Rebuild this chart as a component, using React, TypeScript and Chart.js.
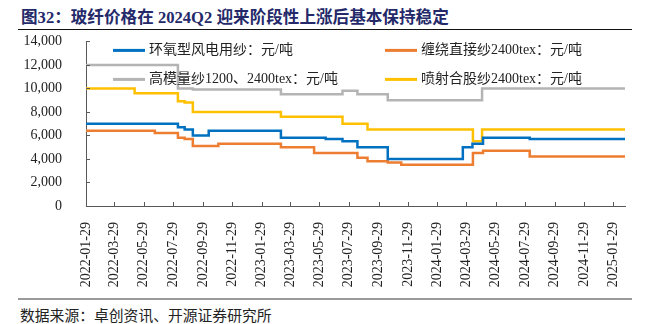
import React, { useEffect, useRef } from 'react';
import { Chart, registerables } from 'chart.js';

Chart.register(...registerables);

const START = '2022-01-29';
const END = '2025-02-22';

const tickLabels = [
  '2022-01-29', '2022-03-29', '2022-05-29', '2022-07-29', '2022-09-29', '2022-11-29',
  '2023-01-29', '2023-03-29', '2023-05-29', '2023-07-29', '2023-09-29', '2023-11-29',
  '2024-01-29', '2024-03-29', '2024-05-29', '2024-07-29', '2024-09-29', '2024-11-29',
  '2025-01-29',
];

const seriesNames = [
  '环氧型风电用纱：元/吨',
  '缠绕直接纱2400tex：元/吨',
  '高模量纱1200、2400tex：元/吨',
  '喷射合股纱2400tex：元/吨',
];
const seriesColors = ['#0070C0', '#ED7D31', '#B4B4B4', '#FFC000'];

// 环氧型风电用纱 (change dates and new values)
const epoxyDates = ['2022-01-29', '2022-08-08', '2022-08-22', '2022-09-08', '2022-10-11', '2023-03-10', '2023-06-11', '2023-07-16', '2023-08-16', '2023-10-18', '2024-03-22', '2024-04-11', '2024-05-03', '2024-08-08'];
const epoxyValues = [7000, 6700, 6500, 6000, 6400, 5800, 5700, 5500, 5000, 4000, 5000, 5300, 5800, 5700];

// 缠绕直接纱2400tex
const windingDates = ['2022-01-29', '2022-06-21', '2022-08-08', '2022-08-22', '2022-09-08', '2022-10-31', '2023-03-10', '2023-05-18', '2023-08-16', '2023-09-06', '2023-10-18', '2023-11-15', '2024-04-12', '2024-05-03', '2024-08-08'];
const windingValues = [6400, 6200, 5800, 5700, 5100, 5300, 5000, 4500, 4100, 3800, 3700, 3500, 4500, 4700, 4200];

// 高模量纱1200、2400tex
const highModDates = ['2022-01-29', '2022-08-08', '2022-09-08', '2023-03-10', '2023-07-16', '2023-08-16', '2023-10-18', '2024-05-01'];
const highModValues = [12000, 10000, 9900, 9500, 9800, 9500, 9000, 10000];

// 喷射合股纱2400tex
const sprayDates = ['2022-01-29', '2022-05-10', '2022-08-08', '2022-08-22', '2022-09-08', '2023-03-10', '2023-07-16', '2023-09-06', '2024-04-12', '2024-05-01'];
const sprayValues = [10000, 9600, 8900, 8800, 8000, 7600, 7000, 6500, 5500, 6500];

const yTicks = [0, 2000, 4000, 6000, 8000, 10000, 12000, 14000];

const FONT = "'Liberation Serif', 'Times New Roman', serif";
const CJK_FONT = "'Liberation Serif', 'Noto Sans CJK SC', serif";

const dayOf = (d: string) =>
  (Date.parse(d + 'T00:00:00Z') - Date.parse(START + 'T00:00:00Z')) / 86400000;

const toPoints = (dates: string[], values: number[]) => [
  ...dates.map((d, i) => ({ x: dayOf(d), y: values[i] })),
  { x: dayOf(END), y: values[values.length - 1] },
];

const innerTicks = {
  id: 'innerTicks',
  afterDraw(chart: any) {
    const { ctx, chartArea, scales } = chart;
    ctx.save();
    ctx.strokeStyle = '#595959';
    ctx.lineWidth = 1;
    scales.x.ticks.forEach((_t: any, i: number) => {
      const px = Math.round(scales.x.getPixelForTick(i)) + 0.5;
      ctx.beginPath();
      ctx.moveTo(px, chartArea.bottom);
      ctx.lineTo(px, chartArea.bottom - 4);
      ctx.stroke();
    });
    scales.y.ticks.forEach((_t: any, i: number) => {
      const py = Math.round(scales.y.getPixelForTick(i)) + 0.5;
      ctx.beginPath();
      ctx.moveTo(chartArea.left, py);
      ctx.lineTo(chartArea.left + 4, py);
      ctx.stroke();
    });
    ctx.restore();
  },
};

const legendPlugin = {
  id: 'customLegend',
  afterDatasetsDraw(chart: any) {
    const { ctx, chartArea } = chart;
    const cols = [chartArea.left + 27, chartArea.left + 299];
    const rows = [chartArea.top + 9, chartArea.top + 38];
    ctx.save();
    ctx.font = `14px ${CJK_FONT}`;
    ctx.textBaseline = 'middle';
    seriesNames.forEach((name, k) => {
      const x = cols[k % 2];
      const y = rows[Math.floor(k / 2)];
      ctx.strokeStyle = seriesColors[k];
      ctx.lineWidth = 3;
      ctx.beginPath();
      ctx.moveTo(x, y);
      ctx.lineTo(x + 32, y);
      ctx.stroke();
      ctx.fillStyle = '#222';
      ctx.fillText(name, x + 36, y);
    });
    ctx.restore();
  },
};

export default function App() {
  const ref = useRef<HTMLCanvasElement | null>(null);

  useEffect(() => {
    if (!ref.current) return;
    const seriesPoints = [
      toPoints(epoxyDates, epoxyValues),
      toPoints(windingDates, windingValues),
      toPoints(highModDates, highModValues),
      toPoints(sprayDates, sprayValues),
    ];
    const chart = new Chart(ref.current, {
      type: 'line',
      data: {
        datasets: seriesPoints.map((pts, i) => ({
          label: seriesNames[i],
          data: pts,
          borderColor: seriesColors[i],
          backgroundColor: seriesColors[i],
          borderWidth: 2.5,
          pointRadius: 0,
          stepped: true,
          fill: false,
        })),
      },
      options: {
        animation: false,
        responsive: false,
        devicePixelRatio: 1,
        layout: { padding: { top: 0, right: 24, left: 0, bottom: 0 } },
        plugins: { legend: { display: false }, tooltip: { enabled: false } },
        scales: {
          x: {
            type: 'linear',
            min: 0,
            max: dayOf(END),
            afterBuildTicks: (axis: any) => {
              axis.ticks = tickLabels.map((d) => ({ value: dayOf(d) }));
            },
            afterFit: (s: any) => {
              s.height = 92;
            },
            grid: { display: false },
            border: { display: true, color: '#595959', width: 1 },
            ticks: {
              autoSkip: false,
              maxRotation: 90,
              minRotation: 90,
              padding: 8,
              color: '#222',
              font: { family: FONT, size: 14 },
              callback: (_v: any, i: number) => tickLabels[i],
            },
          },
          y: {
            min: 0,
            max: 14000,
            afterBuildTicks: (axis: any) => {
              axis.ticks = yTicks.map((v) => ({ value: v }));
            },
            afterFit: (s: any) => {
              s.width = 86;
            },
            grid: { display: false },
            border: { display: true, color: '#595959', width: 1 },
            ticks: {
              autoSkip: false,
              padding: 16,
              color: '#222',
              font: { family: FONT, size: 14 },
              callback: (v: any) => Number(v).toLocaleString('en-US'),
            },
          },
        },
      },
      plugins: [innerTicks, legendPlugin],
    } as any);
    return () => chart.destroy();
  }, []);

  return (
    <div style={{ position: 'absolute', left: 0, top: 0, width: 649, height: 324, background: '#fff', overflow: 'hidden' }}>
      <div
        style={{
          position: 'absolute', left: 21, top: 4, whiteSpace: 'nowrap',
          font: `bold 16.6px ${CJK_FONT}`, color: '#24296a',
        }}
      >
        图32：玻纤价格在 2024Q2 迎来阶段性上涨后基本保持稳定
      </div>
      <div style={{ position: 'absolute', left: 18, top: 29, width: 614, height: 0, borderTop: '1.5px solid #111' }} />
      <div style={{ position: 'absolute', left: 18, top: 298, width: 614, height: 0, borderTop: '2px solid #9a9a9a' }} />
      <div
        style={{
          position: 'absolute', left: 20, top: 304, whiteSpace: 'nowrap',
          font: `14.8px ${CJK_FONT}`, color: '#222',
        }}
      >
        数据来源：卓创资讯、开源证券研究所
      </div>
      <canvas ref={ref} width={649} height={281} style={{ position: 'absolute', left: 0, top: 17, width: 649, height: 281 }} />
    </div>
  );
}
